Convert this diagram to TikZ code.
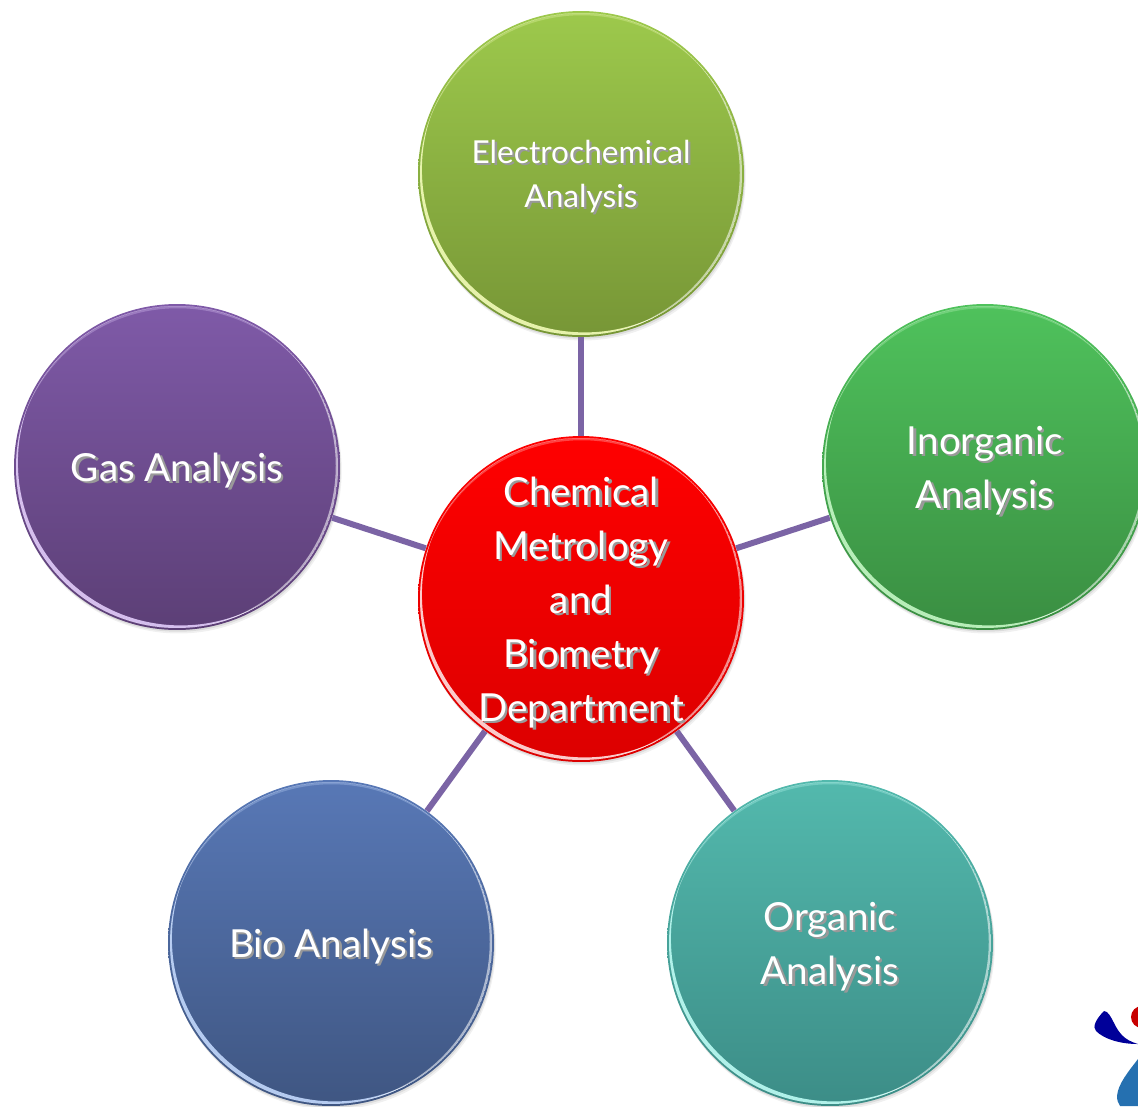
\documentclass[tikz,border=0pt]{standalone}
\usepackage{fontspec}
\setmainfont{Lato}
\usetikzlibrary{shadows}
\definecolor{limetop}{HTML}{9DC94C}
\definecolor{limebot}{HTML}{779636}
\definecolor{limerim}{HTML}{F2FCB8}
\definecolor{greentop}{HTML}{4FC25C}
\definecolor{greenbot}{HTML}{3A8E42}
\definecolor{greenrim}{HTML}{C5F8C5}
\definecolor{purpletop}{HTML}{7F5AA8}
\definecolor{purplebot}{HTML}{5C3F76}
\definecolor{purplerim}{HTML}{E2CCFA}
\definecolor{bluetop}{HTML}{5878B6}
\definecolor{bluebot}{HTML}{3F5682}
\definecolor{bluerim}{HTML}{C2D8FC}
\definecolor{tealtop}{HTML}{53B9AD}
\definecolor{tealbot}{HTML}{3C8D87}
\definecolor{tealrim}{HTML}{BDFCF4}
\definecolor{redtop}{HTML}{FF0000}
\definecolor{redbot}{HTML}{DC0000}
\definecolor{redrim}{HTML}{FFE0E0}
\definecolor{linkcol}{HTML}{7B64A5}
\definecolor{logonavy}{HTML}{000099}
\definecolor{logored}{HTML}{C80000}
\definecolor{logoblue}{HTML}{2570B0}
\newcommand{\softtext}[1]{\leavevmode\rlap{\kern1.3pt\raisebox{-1.3pt}{\textcolor{black!40}{#1}}}#1}
\newcommand{\glint}[4]{%
  \begin{scope}
    \clip (path picture bounding box.center) circle (3.22cm);
    \fill[#1, opacity=#2, even odd rule] (path picture bounding box.center) circle (3.22cm)
      ([shift={(#3,#4)}]path picture bounding box.center) circle (3.26cm);
  \end{scope}}
\tikzset{%
    disc/.style={%
        circle, minimum size=6.52cm, inner sep=0pt, align=center, text=white,
        top color=#1top, bottom color=#1bot,
        drop shadow={shadow xshift=1pt, shadow yshift=-2pt, opacity=0.12},
        drop shadow={shadow xshift=0.5pt, shadow yshift=-1pt, opacity=0.18},
        path picture={%
          \glint{#1rim}{0.9}{2.2pt}{2.6pt}
          \glint{#1rim}{0.3}{0.4pt}{-2.4pt}
          \glint{white}{0.55}{-2.4pt}{0.7pt}
        }
    },
    bigtxt/.style={%
        font=\fontsize{22}{30.7}\selectfont, text depth=#1
    },
    bigtxt/.default=-3pt,
    smalltxt/.style={%
        font=\fontsize{18}{25}\selectfont, text depth=-7pt
    },
    link/.style={%
        draw=linkcol, line width=0.12cm
    },
}
\begin{document}
\begin{tikzpicture}[x=0.02cm,y=-0.02cm]
      \useasboundingbox (0,0) rectangle (1138,1106);

      \node[disc=lime, smalltxt] (electro) at (581,174) {\softtext{Electrochemical}\\\softtext{Analysis}};
      \node[disc=green, bigtxt] (inorganic) at (985,467) {\softtext{Inorganic}\\\softtext{Analysis}};
      \node[disc=purple, bigtxt=-6pt] (gas) at (177,467) {\softtext{Gas Analysis}};
      \node[disc=blue, bigtxt=-6pt] (bio) at (331,943) {\softtext{Bio Analysis}};
      \node[disc=teal, bigtxt] (organic) at (830,943) {\softtext{Organic}\\\softtext{Analysis}};
      \node[disc=red, bigtxt] (dept) at (581,599) {\softtext{Chemical}\\\softtext{Metrology}\\\softtext{and}\\\softtext{Biometry}\\\softtext{Department}};

      \draw[link] (dept) -- (electro);
      \draw[link] (dept) -- (inorganic);
      \draw[link] (dept) -- (gas);
      \draw[link] (dept) -- (bio);
      \draw[link] (dept) -- (organic);

      % logo in the corner
      \fill[logonavy] (1104,1011) .. controls (1108,1011) and (1111,1017) .. (1114,1023)
        .. controls (1119,1033) and (1124,1040) .. (1138,1044)
        .. controls (1120,1044) and (1104,1039) .. (1096,1031)
        .. controls (1092,1027) and (1096,1019) .. (1104,1011) -- cycle;
      \fill[logored] (1142,1017) circle (11);
      \fill[logoblue] (1138,1059) .. controls (1128,1072) and (1118,1084) .. (1117,1096)
        .. controls (1117,1100) and (1118,1103) .. (1120,1106) -- (1138,1106) -- cycle;
    \end{tikzpicture}
\end{document}
